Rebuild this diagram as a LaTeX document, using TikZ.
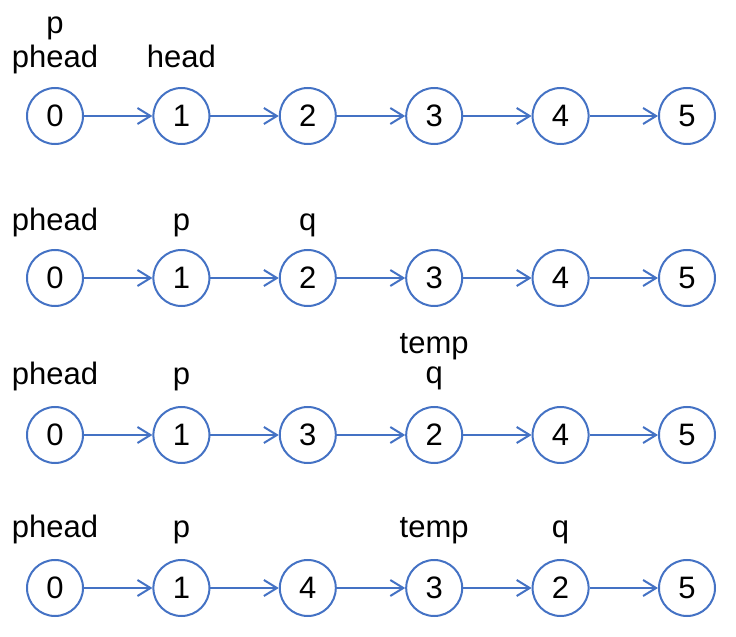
\documentclass[tikz,border=0pt]{standalone}
\usepackage{fontspec}
\setmainfont{Liberation Sans}
\usetikzlibrary{arrows.meta}
\definecolor{linkblue}{HTML}{4472C4}
\tikzset{
  elem/.style = {draw=linkblue, circle, line width=1pt, minimum size=28pt,
                 inner sep=0pt, font=\fontsize{15.5}{18}\selectfont},
  ptr/.style  = {anchor=base, inner sep=0pt, font=\fontsize{15.5}{18}\selectfont},
  nxt/.style  = {-{Straight Barb[length=6.5pt,width=8pt]}, draw=linkblue, line width=1pt}
}
\begin{document}
\begin{tikzpicture}[x=0.5pt,y=-0.5pt]
  \useasboundingbox (0,0) rectangle (736,637);
  % row 1: initial list
  \node[elem] (a0) at (55,116)    {0};
  \node[elem] (a1) at (181.4,116) {1};
  \node[elem] (a2) at (307.8,116) {2};
  \node[elem] (a3) at (434.2,116) {3};
  \node[elem] (a4) at (560.6,116) {4};
  \node[elem] (a5) at (687,116)   {5};
  \draw[nxt] (a0) -- (a1);
  \draw[nxt] (a1) -- (a2);
  \draw[nxt] (a2) -- (a3);
  \draw[nxt] (a3) -- (a4);
  \draw[nxt] (a4) -- (a5);
  \node[ptr] (a0p) at (55,33)    {p};
  \node[ptr] (a0h) at (55,68)    {phead};
  \node[ptr] (a1h) at (181.4,68) {head};

  % row 2
  \node[elem] (b0) at (55,278)    {0};
  \node[elem] (b1) at (181.4,278) {1};
  \node[elem] (b2) at (307.8,278) {2};
  \node[elem] (b3) at (434.2,278) {3};
  \node[elem] (b4) at (560.6,278) {4};
  \node[elem] (b5) at (687,278)   {5};
  \draw[nxt] (b0) -- (b1);
  \draw[nxt] (b1) -- (b2);
  \draw[nxt] (b2) -- (b3);
  \draw[nxt] (b3) -- (b4);
  \draw[nxt] (b4) -- (b5);
  \node[ptr] (b0h) at (55,230)    {phead};
  \node[ptr] (b1p) at (181.4,230) {p};
  \node[ptr] (b2q) at (307.8,230) {q};

  % row 3
  \node[elem] (c0) at (55,435)    {0};
  \node[elem] (c1) at (181.4,435) {1};
  \node[elem] (c2) at (307.8,435) {3};
  \node[elem] (c3) at (434.2,435) {2};
  \node[elem] (c4) at (560.6,435) {4};
  \node[elem] (c5) at (687,435)   {5};
  \draw[nxt] (c0) -- (c1);
  \draw[nxt] (c1) -- (c2);
  \draw[nxt] (c2) -- (c3);
  \draw[nxt] (c3) -- (c4);
  \draw[nxt] (c4) -- (c5);
  \node[ptr] (c0h) at (55,385)    {phead};
  \node[ptr] (c1p) at (181.4,385) {p};
  \node[ptr] (c3t) at (434.2,353) {temp};
  \node[ptr] (c3q) at (434.2,384) {q};

  % row 4
  \node[elem] (d0) at (55,588)    {0};
  \node[elem] (d1) at (181.4,588) {1};
  \node[elem] (d2) at (307.8,588) {4};
  \node[elem] (d3) at (434.2,588) {3};
  \node[elem] (d4) at (560.6,588) {2};
  \node[elem] (d5) at (687,588)   {5};
  \draw[nxt] (d0) -- (d1);
  \draw[nxt] (d1) -- (d2);
  \draw[nxt] (d2) -- (d3);
  \draw[nxt] (d3) -- (d4);
  \draw[nxt] (d4) -- (d5);
  \node[ptr] (d0h) at (55,538)    {phead};
  \node[ptr] (d1p) at (181.4,538) {p};
  \node[ptr] (d3t) at (434.2,538) {temp};
  \node[ptr] (d4q) at (560.6,538) {q};
\end{tikzpicture}
\end{document}
